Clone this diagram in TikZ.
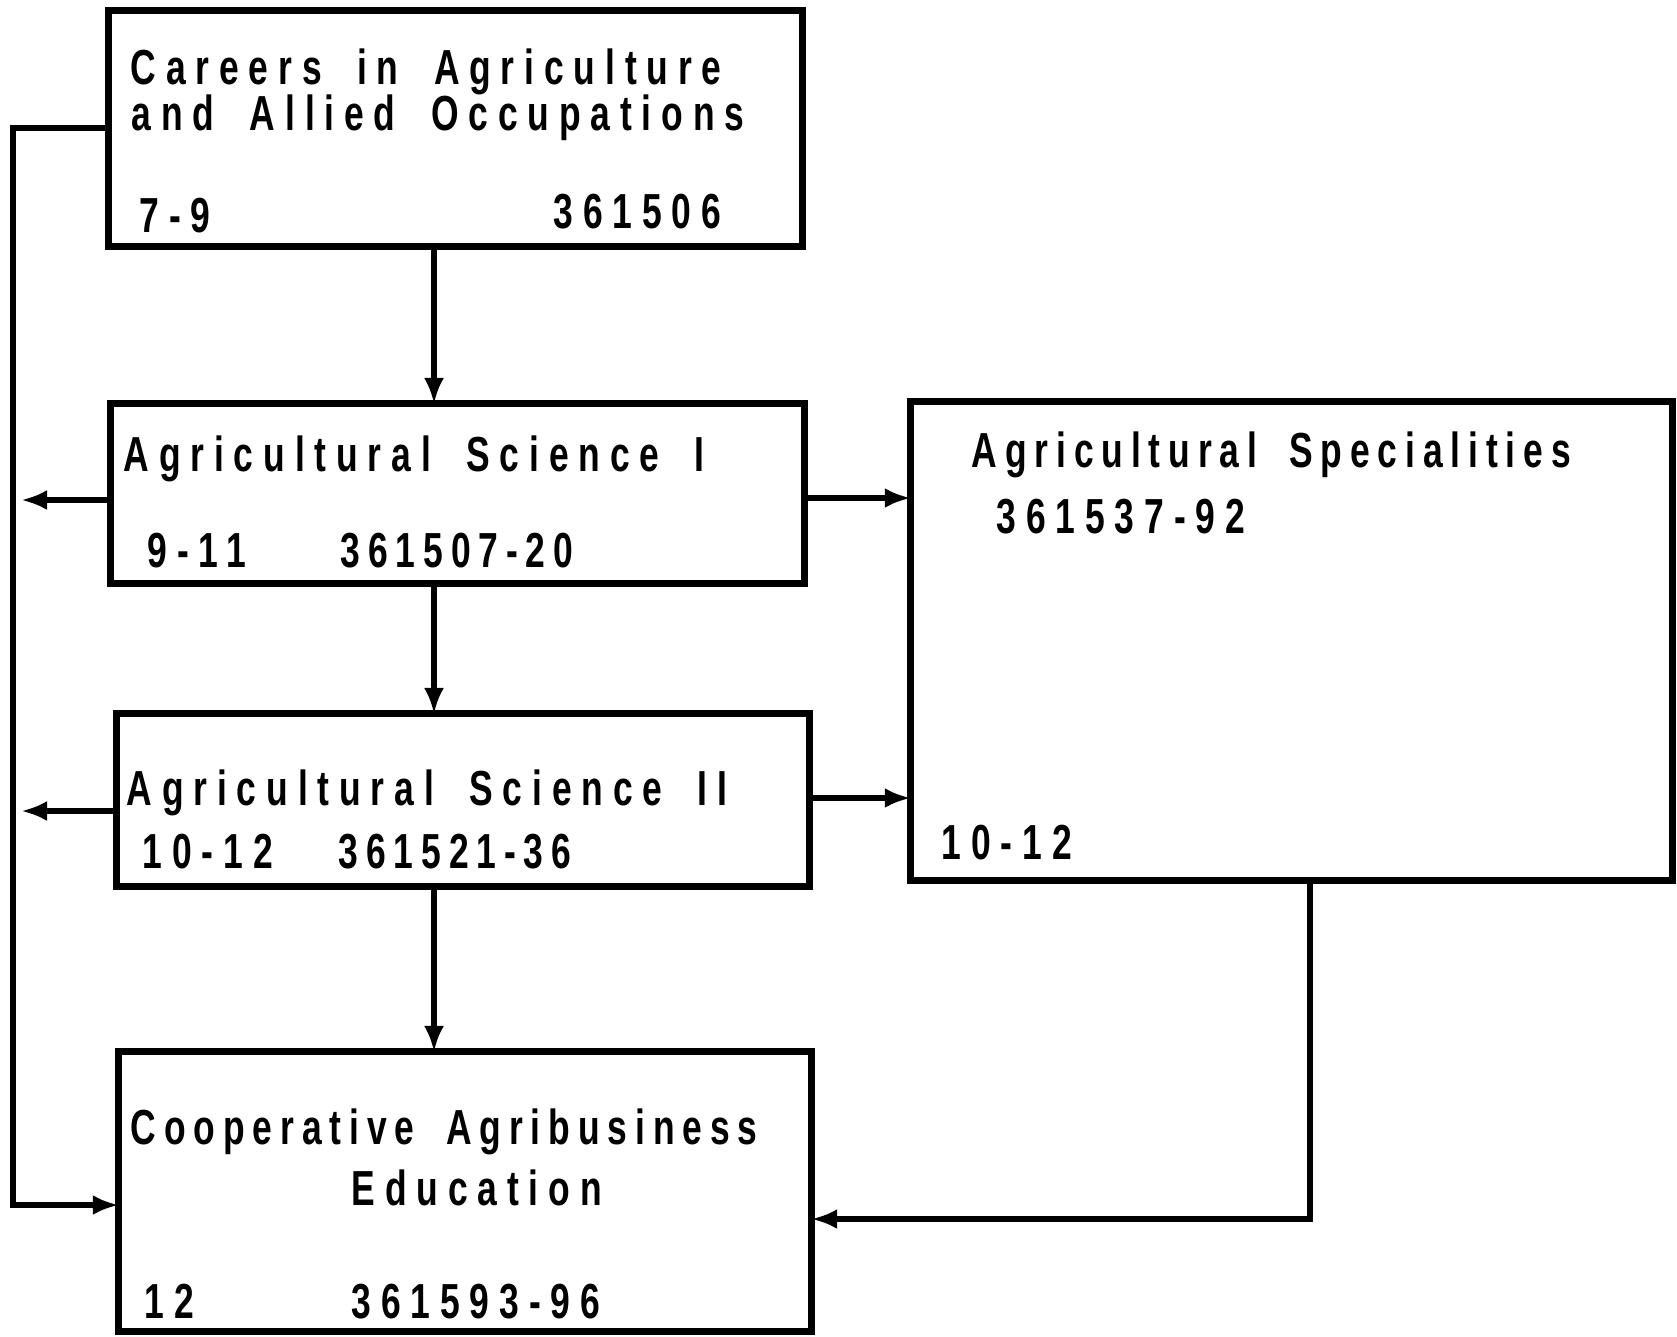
\documentclass[tikz,border=0pt]{standalone}
\usepackage{fontspec}
\newfontfamily\df{Liberation Sans}[FakeStretch=0.72, LetterSpace=20, WordSpace=1.8]
\newfontfamily\dfn{Liberation Sans}[FakeStretch=0.72, LetterSpace=16, WordSpace=1.8]
\usetikzlibrary{arrows.meta}
\begin{document}
\begin{tikzpicture}[x=0.01cm,y=-0.01cm,
  box/.style={draw, rectangle, line width=2pt, inner sep=0pt, outer sep=0pt},
  lbl/.style={anchor=base west, inner sep=0pt, font=\df\bfseries\fontsize{14}{15}\selectfont},
  lbln/.style={lbl, font=\dfn\bfseries\fontsize{14}{15}\selectfont},
  conn/.style={line width=1.8pt},
  arr/.style={conn, -{Latex[length=0.26cm,width=0.2cm]}}]
\useasboundingbox[fill=white] (0,0) rectangle (1677,1336);
% boxes
\node[box, minimum width=6.93cm, minimum height=2.35cm] (b1) at (455.5,128.5) {};
\node[box, minimum width=6.93cm, minimum height=1.79cm] (b2) at (457.5,493.5) {};
\node[box, minimum width=6.92cm, minimum height=1.72cm] (b3) at (463,800) {};
\node[box, minimum width=6.92cm, minimum height=2.79cm] (b4) at (465,1191.5) {};
\node[box, minimum width=7.61cm, minimum height=4.78cm] (b5) at (1291.5,641) {};
% texts
\node[lbl] (t1a) at (130,84) {Careers in Agriculture};
\node[lbl] (t1b) at (131,130) {and Allied Occupations};
\node[lbl] (t1c) at (139,232) {7-9};
\node[lbl] (t1d) at (553,228) {361506};
\node[lbl] (t2a) at (123,471) {Agricultural Science I};
\node[lbl] (t2b) at (147,567) {9-11};
\node[lbln] (t2c) at (340,567) {361507-20};
\node[lbl] (t3a) at (126,805) {Agricultural Science II};
\node[lbl] (t3b) at (142,868) {10-12};
\node[lbln] (t3c) at (338,868) {361521-36};
\node[lbln] (t4a) at (130,1144) {Cooperative Agribusiness};
\node[lbl] (t4b) at (351,1205) {Education};
\node[lbl] (t4c) at (144,1318) {12};
\node[lbl] (t4d) at (351,1318) {361593-96};
\node[lbln] (t5a) at (971,467) {Agricultural Specialities};
\node[lbl] (t5b) at (996,533) {361537-92};
\node[lbl] (t5c) at (941,859) {10-12};
% helper coordinates
\coordinate (vx) at (434,0);
\coordinate (busTop) at (13,128);
\coordinate (busBot) at (13,1205);
\coordinate (a2) at (21,500);
\coordinate (a3) at (21,811);
\coordinate (r2) at (0,498);
\coordinate (r3) at (0,798);
\coordinate (rb) at (1310,1219);
% connectors
\draw[arr] (b1.south -| vx) -- (b2.north -| vx);
\draw[arr] (b2.south -| vx) -- (b3.north -| vx);
\draw[arr] (b3.south -| vx) -- (b4.north -| vx);
\draw[arr] (b1.west |- busTop) -- (busTop) -- (busBot) -- (busBot -| b4.west);
\draw[arr] (a2 -| b2.west) -- (a2);
\draw[arr] (a3 -| b3.west) -- (a3);
\draw[arr] (b2.east |- r2) -- (b5.west |- r2);
\draw[arr] (b3.east |- r3) -- (b5.west |- r3);
\draw[arr] (b5.south -| rb) -- (rb) -- (rb -| b4.east);
\end{tikzpicture}
\end{document}
